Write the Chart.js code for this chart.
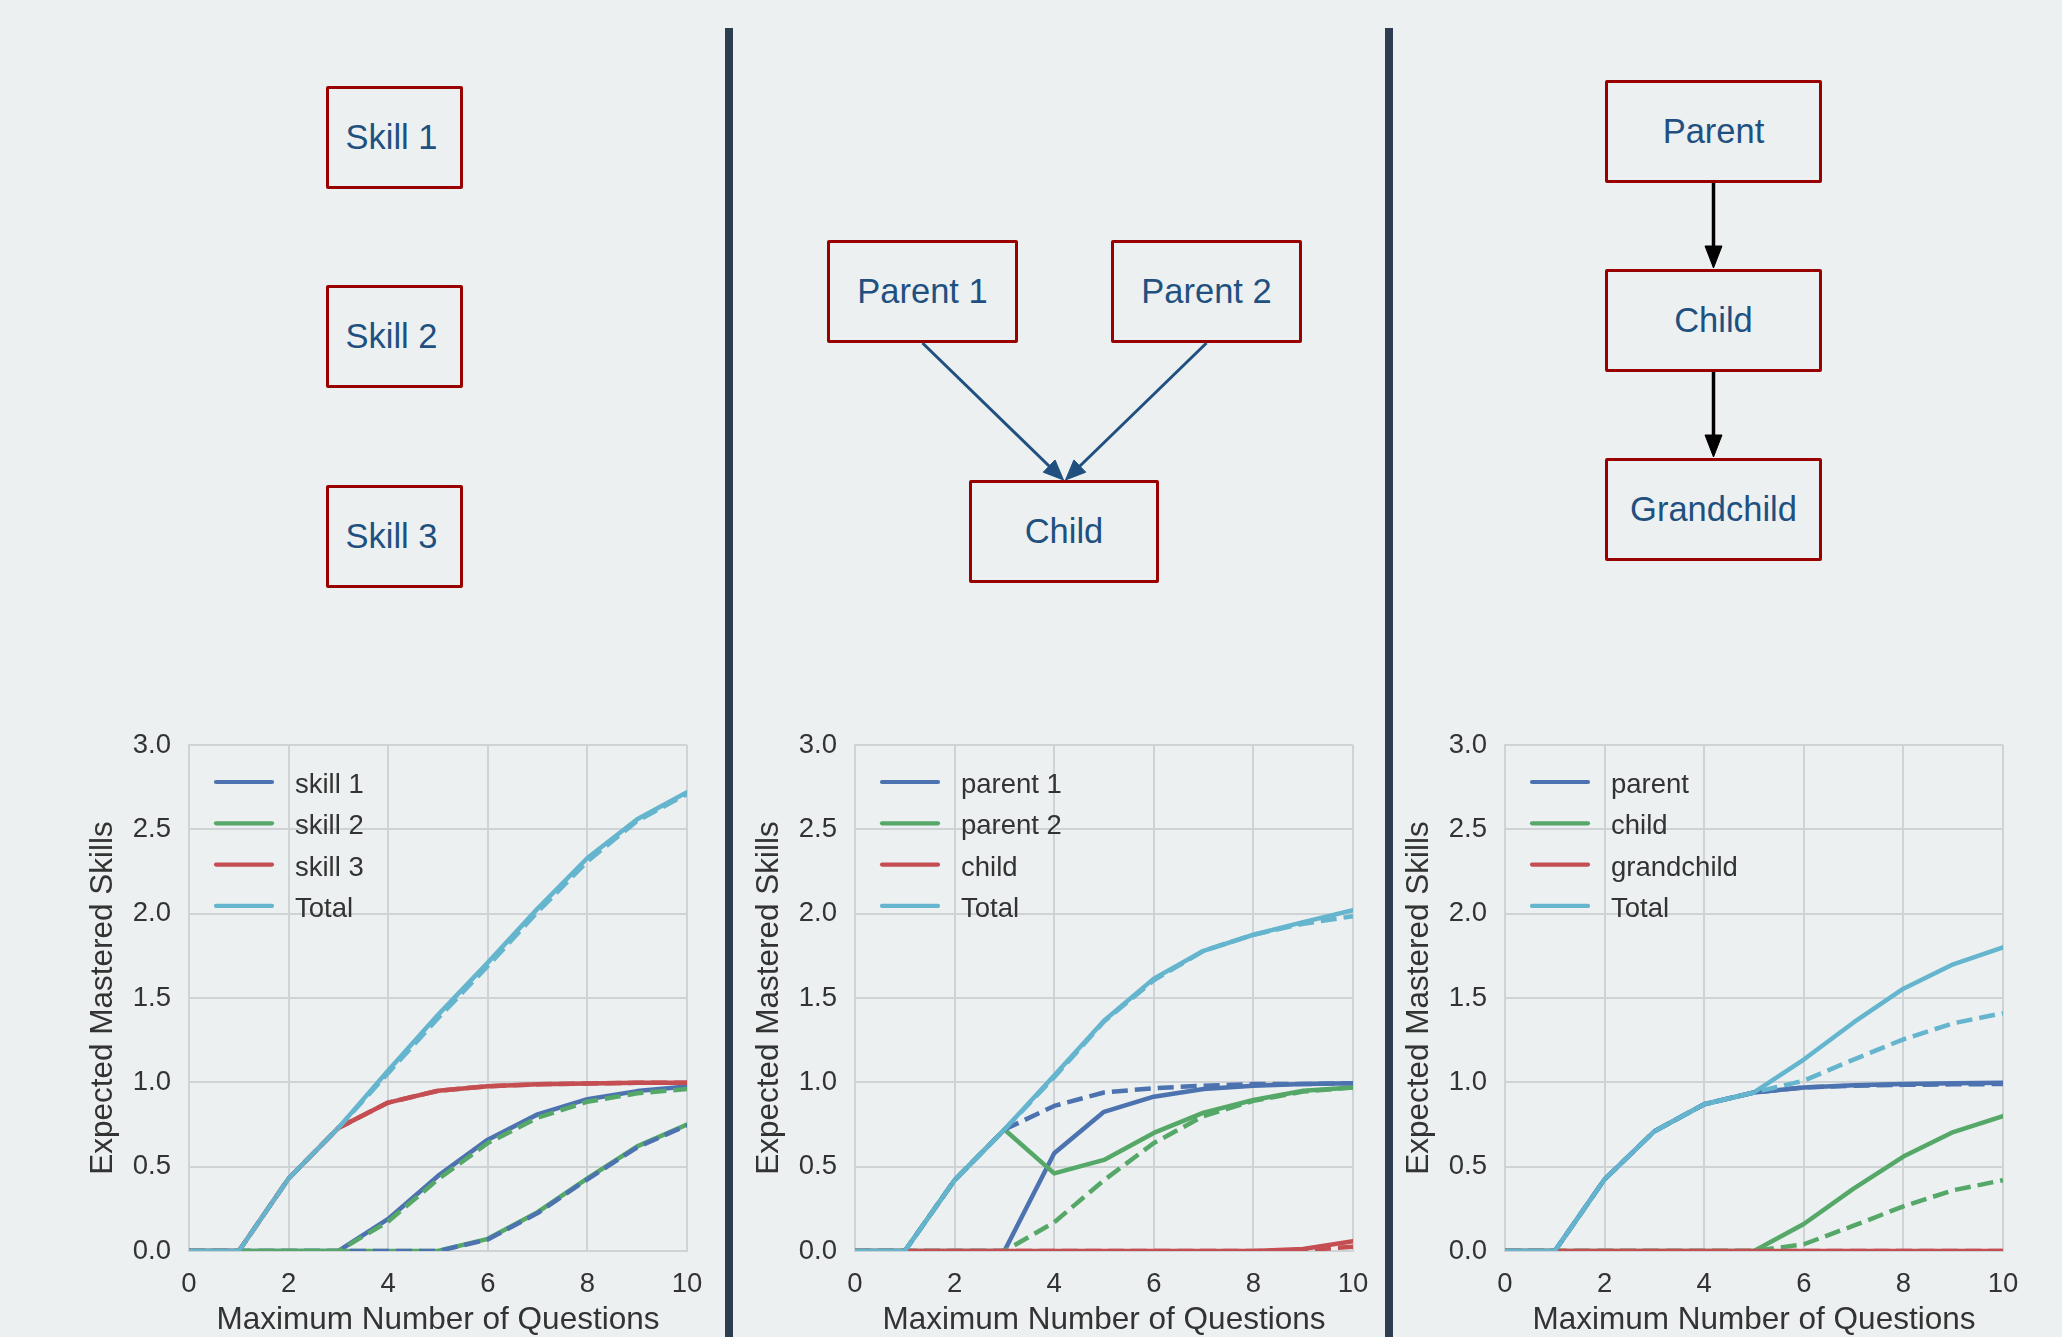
<!DOCTYPE html>
<html>
<head>
<meta charset="utf-8">
<script src="https://cdn.jsdelivr.net/npm/chart.js@4"></script>
<style>
html,body{margin:0;padding:0;background:#ecf0f1;}
body{width:2062px;height:1337px;position:relative;overflow:hidden;font-family:"Liberation Sans",Arial,sans-serif;}
.divider{position:absolute;top:28px;width:8px;height:1309px;background:#2c3e50;}
.node{position:absolute;box-sizing:border-box;border:3px solid #990000;border-radius:2px;display:flex;align-items:center;justify-content:center;color:#1f5080;font-size:34.5px;white-space:nowrap;}
.skill{padding-right:6px;}
canvas{position:absolute;}
#arrows{position:absolute;left:0;top:0;}
</style>
</head>
<body>
<div class="divider" style="left:725px"></div>
<div class="divider" style="left:1385px"></div>

<div class="node skill" style="left:326px;top:86px;width:137px;height:103px">Skill 1</div>
<div class="node skill" style="left:326px;top:285px;width:137px;height:103px">Skill 2</div>
<div class="node skill" style="left:326px;top:485px;width:137px;height:103px">Skill 3</div>

<div class="node" style="left:827px;top:240px;width:191px;height:103px">Parent 1</div>
<div class="node" style="left:1111px;top:240px;width:191px;height:103px">Parent 2</div>
<div class="node" style="left:969px;top:480px;width:190px;height:103px">Child</div>

<div class="node" style="left:1605px;top:80px;width:217px;height:103px">Parent</div>
<div class="node" style="left:1605px;top:269px;width:217px;height:103px">Child</div>
<div class="node" style="left:1605px;top:458px;width:217px;height:103px">Grandchild</div>

<svg id="arrows" width="2062" height="1337" xmlns="http://www.w3.org/2000/svg"></svg>

<canvas id="c1" width="630" height="617" style="left:80px;top:720px"></canvas>
<canvas id="c2" width="630" height="617" style="left:746px;top:720px"></canvas>
<canvas id="c3" width="630" height="617" style="left:1396px;top:720px"></canvas>

<script>
// ---------- data ----------
const questions = [0,1,2,3,4,5,6,7,8,9,10];
const xTickStep = 2;
const yTickStep = 0.5;

// Panel 1: independent skills
const indepLabels = ['skill 1','skill 2','skill 3','Total'];
const indepSkill1   = [0,0,0,0,0.19,0.445,0.66,0.81,0.90,0.948,0.975];
const indepSkill2   = [0,0,0,0,0,0,0.072,0.23,0.43,0.62,0.75];
const indepSkill3   = [0,0,0.43,0.73,0.88,0.95,0.977,0.988,0.993,0.997,0.998];
const indepTotal    = [0,0,0.43,0.73,1.07,1.40,1.71,2.03,2.33,2.56,2.72];
const indepSkill1Alt = [0,0,0,0,0,0,0.068,0.225,0.425,0.615,0.745];
const indepSkill2Alt = [0,0,0,0,0.175,0.425,0.64,0.79,0.885,0.935,0.96];
const indepSkill3Alt = [0,0,0.43,0.73,0.88,0.95,0.977,0.988,0.993,0.997,0.998];
const indepTotalAlt  = [0,0,0.43,0.73,1.055,1.38,1.69,2.01,2.31,2.55,2.71];

// Panel 2: two parents -> child
const convLabels = ['parent 1','parent 2','child','Total'];
const convParent1   = [0,0,0,0,0.58,0.825,0.915,0.96,0.98,0.99,0.995];
const convParent2   = [0,0,0.42,0.72,0.46,0.54,0.70,0.82,0.895,0.95,0.97];
const convChild     = [0,0,0,0,0,0,0,0,0,0.012,0.058];
const convTotal     = [0,0,0.42,0.72,1.04,1.365,1.615,1.78,1.875,1.95,2.02];
const convParent1Alt = [0,0,0.42,0.72,0.86,0.94,0.965,0.98,0.99,0.99,0.995];
const convParent2Alt = [0,0,0,0,0.17,0.42,0.64,0.80,0.89,0.945,0.97];
const convChildAlt   = [0,0,0,0,0,0,0,0,0,0.004,0.025];
const convTotalAlt   = [0,0,0.42,0.72,1.03,1.36,1.605,1.78,1.875,1.94,1.985];

// Panel 3: chain parent -> child -> grandchild
const chainLabels = ['parent','child','grandchild','Total'];
const chainParent     = [0,0,0.425,0.71,0.87,0.94,0.97,0.983,0.99,0.995,0.998];
const chainChild      = [0,0,0,0,0,0,0.16,0.37,0.56,0.705,0.80];
const chainGrandchild = [0,0,0,0,0,0,0,0,0,0,0];
const chainTotal      = [0,0,0.425,0.71,0.87,0.94,1.135,1.355,1.555,1.70,1.80];
const chainParentAlt     = [0,0,0.425,0.71,0.87,0.94,0.97,0.98,0.985,0.988,0.99];
const chainChildAlt      = [0,0,0,0,0,0,0.04,0.15,0.265,0.36,0.42];
const chainGrandchildAlt = [0,0,0,0,0,0,0,0,0,0,0];
const chainTotalAlt      = [0,0,0.425,0.71,0.87,0.94,1.01,1.135,1.255,1.35,1.41];

// ---------- styling ----------
const FONT = '"Liberation Sans", Arial, sans-serif';
const colors = ['#4c72b0','#55a868','#c44e52','#64b5cd'];
const gridColor = '#d0d3d5';
const textColor = '#333333';
const LW = 4.5;

const insetLegend = {
  id: 'insetLegend',
  afterDraw(chart) {
    const {ctx, chartArea} = chart;
    ctx.save();
    let row = 0;
    chart.data.datasets.forEach(ds => {
      if (!ds.inLegend) return;
      const y = chartArea.top + 37 + row * 41.3;
      ctx.strokeStyle = ds.borderColor;
      ctx.lineWidth = 4.2;
      ctx.lineCap = 'round';
      ctx.beginPath();
      ctx.moveTo(chartArea.left + 27, y);
      ctx.lineTo(chartArea.left + 83, y);
      ctx.stroke();
      ctx.fillStyle = textColor;
      ctx.font = '27.5px ' + FONT;
      ctx.textBaseline = 'alphabetic';
      ctx.textAlign = 'left';
      ctx.fillText(ds.label, chartArea.left + 106, y + 11);
      row++;
    });
    ctx.restore();
  }
};

function pts(vals){ return vals.map((v,i)=>({x: questions[i], y: v})); }
function noAutoPad(s){ s.paddingTop = 0; s.paddingBottom = 0; s.paddingLeft = 0; s.paddingRight = 0; }

function makeChart(id, labels, solid, dashed){
  const datasets = [];
  solid.forEach((vals,i)=>{
    datasets.push({
      label: labels[i], data: pts(vals), inLegend: true,
      borderColor: colors[i], borderWidth: LW, borderCapStyle: 'round', borderJoinStyle: 'round',
      pointRadius: 0, tension: 0, fill: false, clip: 0, order: 7 - i
    });
  });
  dashed.forEach((vals,i)=>{
    datasets.push({
      label: labels[i] + ' (alt)', data: pts(vals), inLegend: false,
      borderColor: colors[i], borderWidth: LW, borderDash: [16,7], borderCapStyle: 'butt', borderJoinStyle: 'round',
      pointRadius: 0, tension: 0, fill: false, clip: 0, order: 3 - i
    });
  });
  return new Chart(document.getElementById(id), {
    type: 'line',
    data: {datasets},
    plugins: [insetLegend],
    options: {
      responsive: false, animation: false, devicePixelRatio: 1, events: [],
      layout: {padding: {top: 25, right: 23, left: 0, bottom: 0}},
      plugins: {legend: {display: false}, tooltip: {enabled: false}},
      scales: {
        x: {
          type: 'linear', min: 0, max: 10,
          ticks: {stepSize: xTickStep, color: textColor, font: {family: FONT, size: 27.5}, padding: 17, maxRotation: 0, autoSkip: false},
          grid: {color: gridColor, lineWidth: 2, drawTicks: false},
          border: {display: true, color: gridColor, width: 2},
          title: {display: true, text: 'Maximum Number of Questions', color: textColor,
                  font: {family: FONT, size: 31.5, lineHeight: 1}, padding: {top: 0, bottom: 1}},
          afterFit(s){ s.height = 86; noAutoPad(s); }
        },
        y: {
          type: 'linear', min: 0, max: 3,
          ticks: {stepSize: yTickStep, color: textColor, font: {family: FONT, size: 27.5}, padding: 18,
                  callback: v => Number(v).toFixed(1)},
          grid: {color: gridColor, lineWidth: 2, drawTicks: false},
          border: {display: true, color: gridColor, width: 2},
          title: {display: true, text: 'Expected Mastered Skills', color: textColor,
                  font: {family: FONT, size: 31.5, lineHeight: 1}, padding: {top: 8, bottom: 0}},
          afterFit(s){ s.width = 109; noAutoPad(s); }
        }
      }
    }
  });
}

makeChart('c1', indepLabels,
  [indepSkill1, indepSkill2, indepSkill3, indepTotal],
  [indepSkill1Alt, indepSkill2Alt, indepSkill3Alt, indepTotalAlt]);
makeChart('c2', convLabels,
  [convParent1, convParent2, convChild, convTotal],
  [convParent1Alt, convParent2Alt, convChildAlt, convTotalAlt]);
makeChart('c3', chainLabels,
  [chainParent, chainChild, chainGrandchild, chainTotal],
  [chainParentAlt, chainChildAlt, chainGrandchildAlt, chainTotalAlt]);

// ---------- diagram arrows ----------
const svgNS = 'http://www.w3.org/2000/svg';
const svg = document.getElementById('arrows');
function arrow(x1,y1,x2,y2,color,w,hl,hw){
  const dx = x2-x1, dy = y2-y1, L = Math.hypot(dx,dy), ux = dx/L, uy = dy/L;
  const bx = x2-ux*hl, by = y2-uy*hl;
  const ln = document.createElementNS(svgNS,'line');
  ln.setAttribute('x1',x1); ln.setAttribute('y1',y1);
  ln.setAttribute('x2',bx+ux*2); ln.setAttribute('y2',by+uy*2);
  ln.setAttribute('stroke',color); ln.setAttribute('stroke-width',w);
  svg.appendChild(ln);
  const pg = document.createElementNS(svgNS,'polygon');
  pg.setAttribute('points', `${x2},${y2} ${bx-uy*hw},${by+ux*hw} ${bx+uy*hw},${by-ux*hw}`);
  pg.setAttribute('fill',color); pg.setAttribute('stroke',color); pg.setAttribute('stroke-width',1);
  pg.setAttribute('stroke-linejoin','miter');
  svg.appendChild(pg);
}
arrow(922.5,343,1063.5,480,'#1f5080',3,20,8.5);
arrow(1206.5,343,1065.5,480,'#1f5080',3,20,8.5);
arrow(1713.5,183,1713.5,268,'#000000',3.5,22,8.5);
arrow(1713.5,372,1713.5,457,'#000000',3.5,22,8.5);
</script>
</body>
</html>
